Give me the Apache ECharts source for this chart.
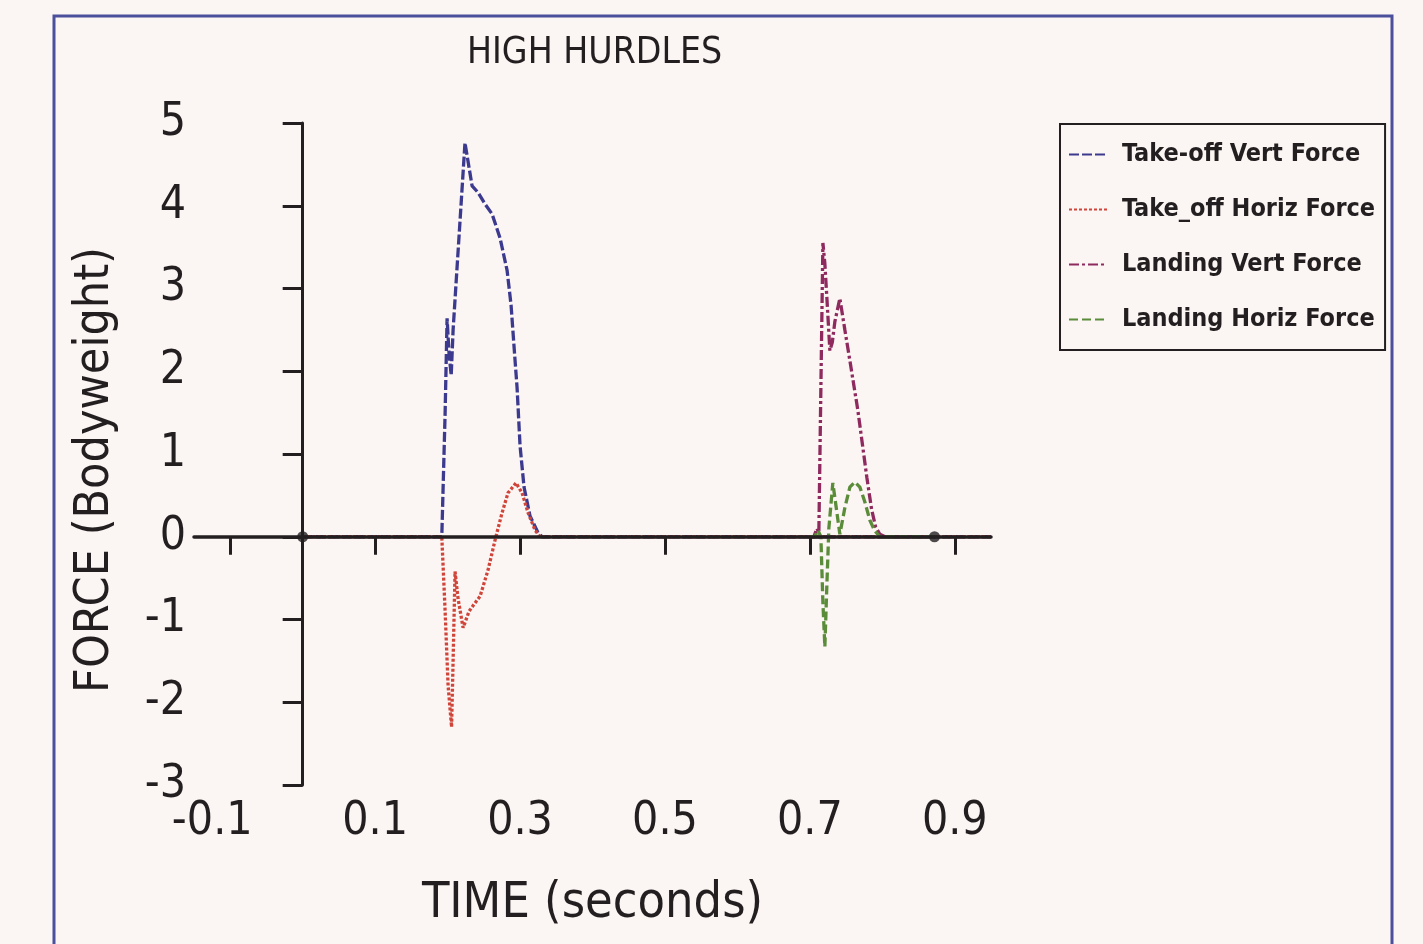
<!DOCTYPE html>
<html>
<head>
<meta charset="utf-8">
<script src="https://cdn.jsdelivr.net/npm/echarts@6/dist/echarts.min.js"></script>
<style>
  html, body {margin:0; padding:0; background:#fbf5f3;}
  #chart {width:1423px; height:944px;}
</style>
</head>
<body>
<div id="chart"></div>
<script>
// time (s) / force (bodyweight)
const xTicks = [-0.1, 0.1, 0.3, 0.5, 0.7, 0.9];
const seriesNames = ["Take-off Vert Force", "Take_off Horiz Force", "Landing Vert Force", "Landing Horiz Force"];

const takeoffVert = [
    [0, 0], [0.192, 0], [0.1966, 1.5], [0.1993, 2.64], [0.2021, 2.2], [0.205, 1.95], [0.2076, 2.5],
    [0.224, 4.76], [0.2338, 4.24], [0.242, 4.16], [0.2517, 4.02], [0.2614, 3.9], [0.2724, 3.61],
    [0.2821, 3.22], [0.2876, 2.8], [0.2917, 2.3], [0.2959, 1.8], [0.300, 1.1], [0.3055, 0.6],
    [0.3138, 0.25], [0.3248, 0.05], [0.3303, 0], [0.95, 0]
];
const takeoffHoriz = [
    [0, 0], [0.192, 0], [0.1966, -0.9], [0.2007, -1.8], [0.2055, -2.3], [0.2076, -1.5], [0.2103, -0.42],
    [0.2145, -0.75], [0.2214, -1.1], [0.2297, -0.9], [0.2379, -0.8], [0.2448, -0.72], [0.2559, -0.4],
    [0.2655, -0.04], [0.2752, 0.29], [0.2834, 0.53], [0.2945, 0.65], [0.3028, 0.53], [0.311, 0.29],
    [0.3207, 0.08], [0.3276, 0], [0.95, 0]
];
const landingVert = [
    [0.70, 0], [0.7055, 0], [0.7097, 0.1], [0.7124, 0.05], [0.7152, 1.8], [0.718, 3.55], [0.7207, 3.3],
    [0.7234, 2.9], [0.7276, 2.25], [0.731, 2.35], [0.7345, 2.6], [0.7414, 2.88], [0.7483, 2.5],
    [0.7552, 2.13], [0.7662, 1.53], [0.7786, 0.72], [0.7852, 0.33], [0.7907, 0.12], [0.7966, 0.03],
    [0.8034, 0], [0.872, 0]
];
const landingHoriz = [
    [0.70, 0], [0.7069, 0], [0.711, 0.08], [0.7152, 0], [0.718, -0.8], [0.7207, -1.33], [0.7234, -0.6],
    [0.7262, 0.1], [0.7317, 0.65], [0.7372, 0.3], [0.7414, 0.03], [0.7483, 0.35], [0.7552, 0.6],
    [0.7621, 0.66], [0.769, 0.6], [0.7759, 0.42], [0.7828, 0.2], [0.7897, 0.07], [0.7966, 0], [0.872, 0]
];
const endDots = [[0, 0], [0.872, 0]];

const FONT = "'DejaVu Sans Condensed', 'Liberation Sans Narrow', 'Roboto', sans-serif";
const INK = '#231f20';

let chart = echarts.init(document.getElementById('chart'));

function lineSerie(name, data, color, dash) {
    return {
        name: name,
        type: 'line',
        xAxisIndex: 0,
        yAxisIndex: 0,
        data: data,
        symbol: 'none',
        z: 2,
        lineStyle: {color: color, width: 3.3, type: dash},
        itemStyle: {color: color}
    };
}

let options = {
    backgroundColor: '#fbf5f3',
    animation: false,
    title: {
        text: 'HIGH HURDLES',
        left: 462, top: 30,
        textStyle: {fontFamily: FONT, fontSize: 37, fontWeight: 'normal', color: INK}
    },
    graphic: [{
        type: 'rect',
        shape: {x: 54, y: 16, width: 1338, height: 960},
        style: {fill: null, stroke: '#4b4f9c', lineWidth: 3},
        silent: true
    }, {
        // y axis title, placed a little below the grid middle as in the scan
        type: 'text',
        x: 96, y: 470,
        rotation: Math.PI / 2,
        style: {
            text: 'FORCE (Bodyweight)',
            font: "48px 'DejaVu Sans Condensed', sans-serif",
            fill: INK, align: 'center', verticalAlign: 'middle'
        },
        silent: true
    }],
    legend: {
        orient: 'vertical',
        left: 1060, top: 124,
        padding: [18, 10, 18, 8],
        borderColor: INK, borderWidth: 2,
        itemWidth: 38, itemHeight: 14,
        itemGap: 30,
        itemStyle: {opacity: 0},
        data: seriesNames,
        textStyle: {fontFamily: FONT, fontSize: 25, fontWeight: 'bold', color: INK, padding: [0, 0, 0, 10]}
    },
    grid: {left: 194, right: 432, top: 123, bottom: 159, containLabel: false},
    xAxis: [{
        type: 'value', min: -0.15, max: 0.95, position: 'bottom',
        name: 'TIME (seconds)', nameLocation: 'middle', nameGap: 94,
        nameTextStyle: {fontFamily: FONT, fontSize: 50, color: INK},
        axisLine: {show: false, onZero: false},
        axisTick: {show: false},
        splitLine: {show: false},
        axisLabel: {
            customValues: xTicks, margin: 14,
            formatter: v => v < 0 ? '{neg|' + v.toFixed(1) + '}' : v.toFixed(1),
            rich: {neg: {fontFamily: FONT, fontSize: 46, color: INK, padding: [0, 36, 0, 0]}},
            fontFamily: FONT, fontSize: 46, color: INK
        }
    }, {
        type: 'value', min: -0.15, max: 0.95, position: 'bottom',
        z: 5,
        axisLine: {show: true, onZero: true, lineStyle: {color: INK, width: 3.5}},
        axisTick: {show: true, customValues: xTicks, length: 18, lineStyle: {color: INK, width: 3}},
        axisLabel: {show: false},
        splitLine: {show: false}
    }],
    yAxis: [{
        type: 'value', min: -3, max: 5, interval: 1, position: 'left',
        axisLine: {show: false, onZero: false},
        axisTick: {show: false},
        splitLine: {show: false},
        axisLabel: {margin: 8, fontFamily: FONT, fontSize: 46, color: INK}
    }, {
        type: 'value', min: -3, max: 5, interval: 1, position: 'left',
        z: 5,
        axisLine: {show: true, onZero: true, onZeroAxisIndex: 1, lineStyle: {color: INK, width: 3}},
        axisTick: {show: true, length: 20, lineStyle: {color: INK, width: 3}},
        axisLabel: {show: false},
        splitLine: {show: false}
    }],
    series: [
        lineSerie(seriesNames[0], takeoffVert, '#3c3a8e', [10, 3]),
        lineSerie(seriesNames[1], takeoffHoriz, '#d0453a', [3, 2]),
        lineSerie(seriesNames[2], landingVert, '#8e2a5e', [10, 3, 3, 3]),
        lineSerie(seriesNames[3], landingHoriz, '#5b8c3a', [9, 4]),
        {
            type: 'scatter',
            data: endDots,
            symbolSize: 11,
            z: 6,
            itemStyle: {color: INK},
            silent: true
        }
    ]
};
chart.setOption(options);
</script>
</body>
</html>
